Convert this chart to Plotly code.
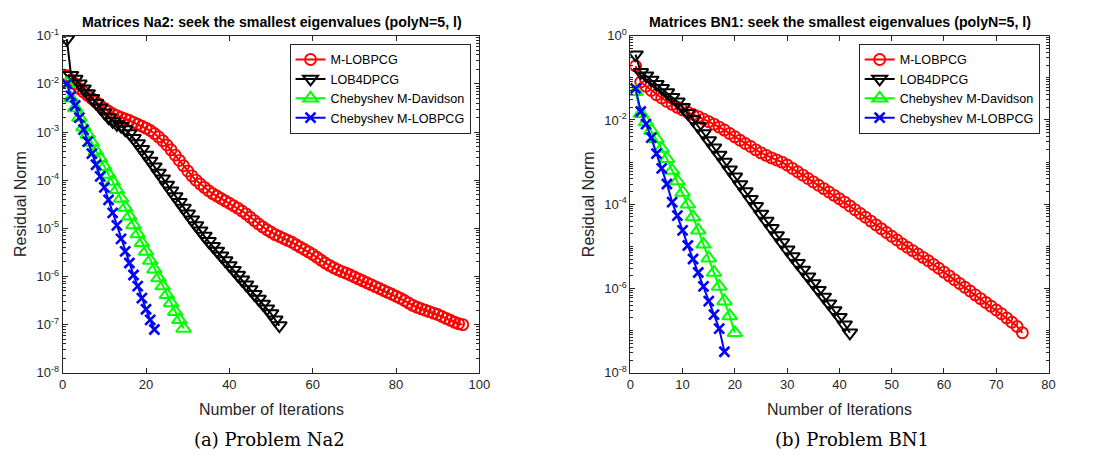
import plotly.graph_objects as go

# ---------------- data (log10 of residual norm, one value per iteration) ----------------
series_names = ["M-LOBPCG", "LOB4DPCG", "Chebyshev M-Davidson", "Chebyshev M-LOBPCG"]

na2_mlobpcg_log = [
    -1.83, -1.92, -2.00, -2.10, -2.17, -2.24, -2.31, -2.38, -2.45, -2.51,
    -2.57, -2.62, -2.66, -2.70, -2.73, -2.76, -2.80, -2.84, -2.88, -2.92,
    -2.97, -3.03, -3.10, -3.18, -3.27, -3.37, -3.48, -3.59, -3.70, -3.81,
    -3.91, -4.00, -4.08, -4.15, -4.22, -4.28, -4.33, -4.38, -4.43, -4.48,
    -4.53, -4.58, -4.64, -4.70, -4.77, -4.84, -4.91, -4.97, -5.03, -5.08,
    -5.13, -5.17, -5.21, -5.25, -5.29, -5.34, -5.39, -5.44, -5.49, -5.54,
    -5.60, -5.66, -5.72, -5.77, -5.82, -5.86, -5.90, -5.93, -5.97, -6.01,
    -6.05, -6.09, -6.13, -6.17, -6.21, -6.25, -6.29, -6.33, -6.37, -6.41,
    -6.45, -6.50, -6.55, -6.60, -6.64, -6.67, -6.70, -6.73, -6.76, -6.79,
    -6.83, -6.87, -6.91, -6.95, -6.98, -7.00,
]
na2_lob4dpcg_log = [
    -1.07, -1.82, -1.90, -2.00, -2.10, -2.20, -2.30, -2.40, -2.50, -2.60,
    -2.70, -2.78, -2.84, -2.88, -2.95, -3.03, -3.13, -3.24, -3.36, -3.48,
    -3.60, -3.72, -3.85, -3.97, -4.10, -4.22, -4.34, -4.46, -4.58, -4.70,
    -4.82, -4.94, -5.05, -5.16, -5.27, -5.37, -5.47, -5.57, -5.67, -5.77,
    -5.87, -5.97, -6.07, -6.17, -6.27, -6.37, -6.47, -6.57, -6.67, -6.77,
    -6.90, -7.02,
]
na2_chebdav_log = [
    -2.00, -2.30, -2.50, -2.70, -2.90, -3.05, -3.22, -3.40, -3.55, -3.72,
    -3.88, -4.03, -4.20, -4.38, -4.57, -4.75, -4.93, -5.12, -5.30, -5.48,
    -5.67, -5.85, -6.03, -6.20, -6.38, -6.55, -6.73, -6.90, -7.08,
]
na2_cheblob_log = [
    -2.00, -2.25, -2.45, -2.70, -2.95, -3.20, -3.45, -3.68, -3.92, -4.15,
    -4.41, -4.68, -4.94, -5.22, -5.48, -5.72, -5.97, -6.20, -6.45, -6.68,
    -6.90, -7.10,
]

bn1_mlobpcg_log = [
    -0.72, -1.10, -1.20, -1.30, -1.40, -1.48, -1.56, -1.63, -1.70, -1.76,
    -1.82, -1.87, -1.92, -1.98, -2.04, -2.10, -2.17, -2.24, -2.32, -2.40,
    -2.48, -2.56, -2.63, -2.71, -2.78, -2.84, -2.90, -2.95, -3.00, -3.07,
    -3.15, -3.23, -3.31, -3.39, -3.47, -3.55, -3.63, -3.71, -3.79, -3.87,
    -3.95, -4.04, -4.13, -4.22, -4.31, -4.40, -4.49, -4.58, -4.67, -4.76,
    -4.85, -4.94, -5.02, -5.10, -5.18, -5.26, -5.34, -5.43, -5.52, -5.61,
    -5.70, -5.79, -5.88, -5.97, -6.06, -6.15, -6.24, -6.33, -6.42, -6.51,
    -6.60, -6.70, -6.80, -6.90, -7.05,
]
bn1_lob4dpcg_log = [
    -0.45, -0.87, -0.95, -1.05, -1.15, -1.25, -1.35, -1.46, -1.57, -1.70,
    -1.84, -1.99, -2.15, -2.32, -2.49, -2.66, -2.83, -3.00, -3.18, -3.35,
    -3.53, -3.70, -3.88, -4.05, -4.23, -4.40, -4.57, -4.74, -4.91, -5.08,
    -5.24, -5.40, -5.56, -5.72, -5.88, -6.04, -6.20, -6.36, -6.52, -6.68,
    -6.86, -7.05,
]
bn1_chebdav_log = [
    -1.33, -1.85, -2.05, -2.25, -2.45, -2.68, -2.92, -3.20, -3.45, -3.72,
    -4.00, -4.30, -4.62, -4.95, -5.28, -5.62, -5.95, -6.30, -6.65, -7.05,
]
bn1_cheblob_log = [
    -1.25, -1.80, -2.10, -2.42, -2.80, -3.15, -3.52, -3.95, -4.27, -4.62,
    -4.98, -5.30, -5.62, -5.95, -6.30, -6.62, -6.95, -7.50,
]

left_title = "Matrices Na2: seek the smallest eigenvalues (polyN=5, l)"
right_title = "Matrices BN1: seek the smallest eigenvalues (polyN=5, l)"
captions = ["(a) Problem Na2", "(b) Problem BN1"]
x_label = "Number of Iterations"
y_label = "Residual Norm"

left_xticks = [0, 20, 40, 60, 80, 100]
right_xticks = [0, 10, 20, 30, 40, 50, 60, 70, 80]
left_yexp = [-8, -7, -6, -5, -4, -3, -2, -1]
right_yexp = [-8, -6, -4, -2, 0]

# ---------------- styling ----------------
W, H = 1098, 462
AX = "#262626"
FONT = "Liberation Sans, Arial, Helvetica, sans-serif"

styles = [
    dict(color="#ff0000", symbol="circle-open", size=11, mlw=1.9),
    dict(color="#000000", symbol="triangle-down-open", size=13, mlw=2.0),
    dict(color="#00ff00", symbol="triangle-up-open", size=13, mlw=2.0),
    dict(color="#0000ff", symbol="x-thin", size=10, mlw=2.6),
]

# panel geometry (pixels)
L1, R1 = 59.5, 482
L2, R2 = 635, 1059
TOP, BOT = 27.7, 377.7


def fx(p):
    return p / W


def fy(p):
    return 1 - p / H


fig = go.Figure()

panels = [
    ("x", "y", "legend", [na2_mlobpcg_log, na2_lob4dpcg_log, na2_chebdav_log, na2_cheblob_log]),
    ("x2", "y2", "legend2", [bn1_mlobpcg_log, bn1_lob4dpcg_log, bn1_chebdav_log, bn1_cheblob_log]),
]
for xa, ya, lg, data in panels:
    for name, st, vals in zip(series_names, styles, data):
        fig.add_trace(go.Scatter(
            x=list(range(1, len(vals) + 1)),
            y=[10 ** v for v in vals],
            mode="lines+markers",
            name=name,
            xaxis=xa, yaxis=ya, legend=lg,
            line=dict(color=st["color"], width=2),
            marker=dict(symbol=st["symbol"], size=st["size"], color=st["color"],
                        line=dict(color=st["color"], width=st["mlw"])),
        ))


def sup_label(e):
    return "10<sup>%d</sup>" % e


def minor_vals(lo, hi, majors):
    out = []
    for k in range(lo, hi):
        for m in range(1, 10):
            if m == 1 and k in majors:
                continue
            out.append(m * 10.0 ** k)
    return out


xcommon = dict(showgrid=False, zeroline=False, showline=True, linecolor=AX, linewidth=1,
               mirror="ticks", ticks="inside", ticklen=5, tickcolor=AX, tickwidth=1,
               tickfont=dict(family=FONT, size=13, color=AX))
ycommon = dict(type="log", showgrid=False, zeroline=False, showline=True, linecolor=AX,
               linewidth=1, mirror="ticks", ticks="inside", ticklen=5, tickcolor=AX,
               tickwidth=1, tickfont=dict(family=FONT, size=13, color=AX))

ydom = [fy(BOT), fy(TOP)]

leg_common = dict(xanchor="right", yanchor="top", bgcolor="white", bordercolor=AX,
                  borderwidth=1, font=dict(family=FONT, size=12.6, color="black"),
                  tracegroupgap=0, itemwidth=30)

fig.update_layout(
    width=W, height=H,
    margin=dict(l=0, r=0, t=0, b=0),
    paper_bgcolor="white", plot_bgcolor="white",
    showlegend=True,
    xaxis=dict(domain=[fx(L1), fx(R1)], range=[0, 100], tickvals=left_xticks,
               anchor="y", **xcommon),
    yaxis=dict(domain=ydom, range=[-8, -1], tickvals=[10.0 ** e for e in left_yexp],
               ticktext=[sup_label(e) for e in left_yexp], anchor="x",
               minor=dict(tickvals=minor_vals(-8, -1, left_yexp), ticks="inside",
                          ticklen=3, tickcolor=AX, showgrid=False),
               **ycommon),
    xaxis2=dict(domain=[fx(L2), fx(R2)], range=[0, 80], tickvals=right_xticks,
                anchor="y2", **xcommon),
    yaxis2=dict(domain=ydom, range=[-8, 0], tickvals=[10.0 ** e for e in right_yexp],
                ticktext=[sup_label(e) for e in right_yexp], anchor="x2",
                minor=dict(tickvals=minor_vals(-8, 0, right_yexp), ticks="inside",
                           ticklen=3, tickcolor=AX, showgrid=False),
                **ycommon),
    legend=dict(x=fx(R1 - 9), y=fy(TOP + 8.5), **leg_common),
    legend2=dict(x=fx(R2 - 9), y=fy(TOP + 8.5), **leg_common),
)

ann = []
for title, cx in [(left_title, (L1 + R1) / 2 + 1), (right_title, (L2 + R2) / 2 + 1)]:
    ann.append(dict(text="<b>%s</b>" % title, x=fx(cx), y=fy(14), xref="paper", yref="paper",
                    showarrow=False, xanchor="center", yanchor="middle",
                    font=dict(family=FONT, size=14.2, color="black")))
for cx in [(L1 + R1) / 2, (L2 + R2) / 2]:
    ann.append(dict(text=x_label, x=fx(cx), y=fy(416), xref="paper", yref="paper",
                    showarrow=False, xanchor="center", yanchor="middle",
                    font=dict(family=FONT, size=16, color=AX)))
for cx in [16, 592]:
    ann.append(dict(text=y_label, x=fx(cx), y=fy((TOP + BOT) / 2), xref="paper", yref="paper",
                    showarrow=False, xanchor="center", yanchor="middle", textangle=-90,
                    font=dict(family=FONT, size=16, color=AX)))
for cap, cx in zip(captions, [269, 860]):
    ann.append(dict(text=cap, x=fx(cx), y=fy(447), xref="paper", yref="paper",
                    showarrow=False, xanchor="center", yanchor="middle",
                    font=dict(family="DejaVu Serif, Liberation Serif, serif", size=18,
                              color="black")))
fig.update_layout(annotations=ann)

fig.write_html("out.html")
